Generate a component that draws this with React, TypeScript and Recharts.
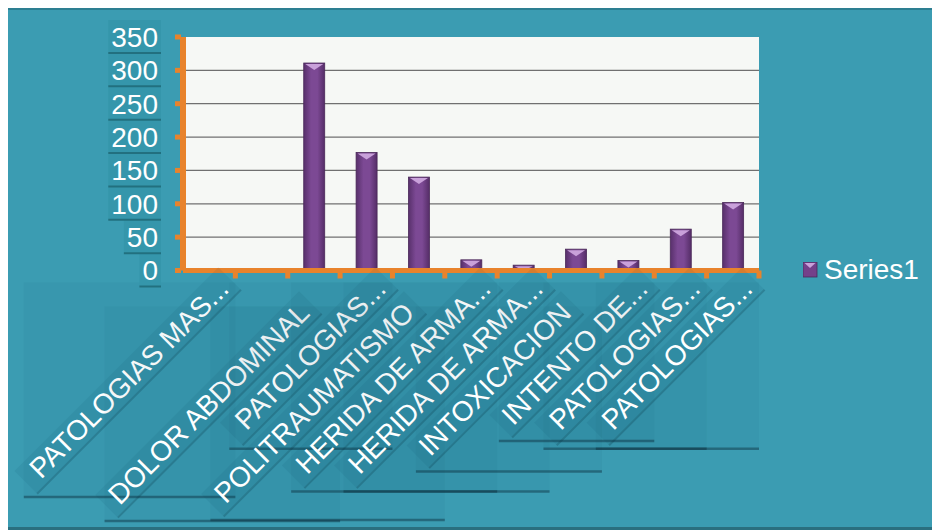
import React from 'react';
import { BarChart, Bar, XAxis, YAxis, CartesianGrid, Legend } from 'recharts';

const categories = [
  'PATOLOGIAS MAS...',
  '',
  'DOLOR ABDOMINAL',
  'PATOLOGIAS...',
  'POLITRAUMATISMO',
  'HERIDA DE ARMA...',
  'HERIDA DE ARMA...',
  'INTOXICACION',
  'INTENTO DE...',
  'PATOLOGIAS...',
  'PATOLOGIAS...',
];
const series1 = [0, 0, 311, 177, 140, 16, 8, 32, 15, 62, 102];
const yTicks = [0, 50, 100, 150, 200, 250, 300, 350];
const gridValues = [50, 100, 150, 200, 250, 300];
const seriesName = 'Series1';

const data = categories.map((name, i) => ({ name, Series1: series1[i] }));

const FONT = '"Liberation Sans", Arial, Helvetica, sans-serif';
const TEAL = '#3b9cb2';
const ORANGE = '#e8832c';
const FS = 28;

const CW: Record<string, number> = {
  A: 0.667, B: 0.667, C: 0.722, D: 0.722, E: 0.667, F: 0.611, G: 0.778, H: 0.722,
  I: 0.278, J: 0.5, K: 0.667, L: 0.556, M: 0.833, N: 0.722, O: 0.778, P: 0.667,
  Q: 0.778, R: 0.722, S: 0.667, T: 0.611, U: 0.722, V: 0.667, W: 0.944, X: 0.667,
  Y: 0.667, Z: 0.611, ' ': 0.278, '.': 0.278,
};
const textWidth = (s: string, fs: number) => {
  let w = 0;
  for (const ch of s) w += CW[ch] ?? 0.556;
  return w * fs;
};

const PLOT_LEFT = 175;

const XTick = (props: any) => {
  const { x, y, payload } = props;
  const half = payload && payload.offset ? payload.offset : 26.2;
  const bx = x + half;
  const label: string = payload.value || '';
  const stub = <rect x={bx - 2.5} y={y} width={5} height={8} fill={ORANGE} />;
  if (!label) return <g>{stub}</g>;
  const truncated = label.endsWith('...');
  const shift = truncated ? 0 : 24;
  const ax = bx - 5 - shift;
  const ay = y + 20 + shift;
  const L = textWidth(label, FS);
  const d = L / Math.SQRT2;
  const sx = ax - d;
  const sy = ay + d;
  return (
    <g>
      <rect x={sx - 14} y={ay - 8} width={bx - sx + 14} height={sy - ay + 22} fill="rgba(0,60,80,0.04)" />
      <line x1={sx - 14} x2={bx} y1={sy + 14} y2={sy + 14} stroke="rgba(10,45,60,0.45)" strokeWidth={2.5} />
      <g transform={`rotate(-45, ${ax}, ${ay})`}>
        <rect x={ax - L - 8} y={ay - 25} width={L + 16} height={31} fill="rgba(0,70,90,0.08)" />
        <line x1={ax - L - 8} x2={ax + 8} y1={ay + 7} y2={ay + 7} stroke="rgba(0,40,55,0.22)" strokeWidth={2} />
        <text x={ax} y={ay} textAnchor="end" fill="#ffffff" fontSize={FS} fontFamily={FONT}>
          {label}
        </text>
      </g>
      {stub}
    </g>
  );
};

const YTick = (props: any) => {
  const { y, payload } = props;
  const label = String(payload.value);
  const w = textWidth(label, FS);
  const right = PLOT_LEFT - 25;
  return (
    <g>
      <rect x={right - w - 3} y={y - 17} width={w + 6} height={33} fill="#3596ab" />
      <line x1={right - w - 3} x2={right + 3} y1={y + 16} y2={y + 16} stroke="#22707f" strokeWidth={2} />
      <rect x={PLOT_LEFT - 8} y={y - 2.5} width={6} height={5} fill={ORANGE} />
      <text x={right} y={y} dy="0.355em" textAnchor="end" fill="#ffffff" fontSize={FS} fontFamily={FONT}>
        {label}
      </text>
    </g>
  );
};

const BarShape = (props: any) => {
  const { x, y, width, height } = props;
  if (!height || height <= 0) return null;
  const tri = Math.min(7, height);
  return (
    <g>
      <rect x={x} y={y} width={width} height={height} fill="url(#barGrad)" stroke="#4a2859" strokeWidth={0.8} />
      <polygon
        points={`${x + 1.5},${y + 1} ${x + width - 1.5},${y + 1} ${x + width / 2},${y + tri}`}
        fill="#c9a1da"
      />
    </g>
  );
};

const LegendContent = () => (
  <div style={{ display: 'flex', alignItems: 'center', fontFamily: FONT }}>
    <svg width={15} height={16} style={{ marginRight: 6 }}>
      <rect x={0} y={0} width={14} height={15} fill="#74408a" stroke="#4a2859" strokeWidth={0.8} />
      <polygon points="1.5,1 12.5,1 7,6" fill="#c9a1da" />
    </svg>
    <span style={{ color: '#ffffff', fontSize: 28, lineHeight: '32px' }}>{seriesName}</span>
  </div>
);

export default function App() {
  return (
    <div
      style={{
        width: 932,
        height: 522,
        background: TEAL,
        boxShadow: 'inset 0 2px 0 #2d7f92, inset 0 -3px 0 #2a6f7f',
        position: 'relative',
      }}
    >
      <BarChart
        width={932}
        height={522}
        data={data}
        margin={{ top: 29, right: 41, bottom: 229.5, left: 0 }}
        barSize={21}
      >
        <defs>
          <linearGradient id="barGrad" x1="0" y1="0" x2="1" y2="0">
            <stop offset="0%" stopColor="#58306b" />
            <stop offset="35%" stopColor="#7c4994" />
            <stop offset="65%" stopColor="#7c4994" />
            <stop offset="100%" stopColor="#552d67" />
          </linearGradient>
        </defs>
        <CartesianGrid
          horizontal
          vertical={false}
          fill="#f6f8f5"
          stroke="#707070"
          strokeWidth={1.2}
          horizontalValues={gridValues}
        />
        <XAxis
          dataKey="name"
          height={30}
          interval={0}
          tickLine={false}
          tickSize={0}
          tickMargin={0}
          axisLine={{ stroke: ORANGE, strokeWidth: 5 }}
          tick={<XTick />}
        />
        <YAxis
          width={PLOT_LEFT}
          domain={[0, 350]}
          ticks={yTicks}
          interval={0}
          tickLine={false}
          tickSize={0}
          tickMargin={0}
          axisLine={{ stroke: ORANGE, strokeWidth: 6 }}
          tick={<YTick />}
        />
        <Legend
          layout="vertical"
          align="right"
          verticalAlign="middle"
          wrapperStyle={{ left: 795, top: 246, width: 140 }}
          content={<LegendContent />}
        />
        <Bar dataKey="Series1" name={seriesName} shape={<BarShape />} isAnimationActive={false} />
      </BarChart>
    </div>
  );
}
